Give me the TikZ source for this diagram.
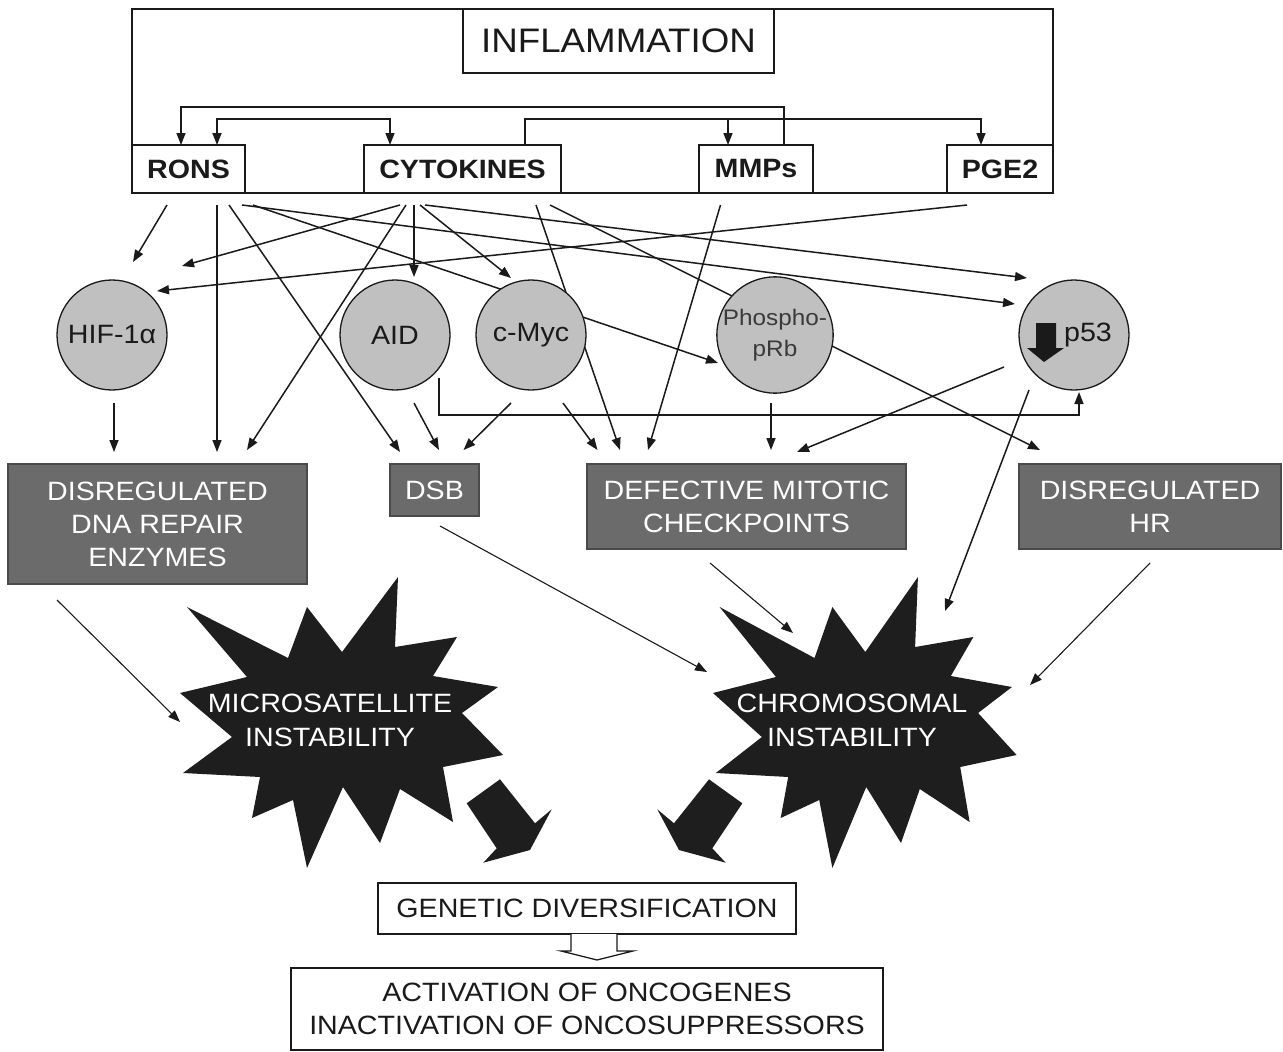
\documentclass[tikz,border=0pt]{standalone}
\usepackage{fontspec}
\setmainfont{Liberation Sans}[FakeStretch=1.08]
\usetikzlibrary{arrows.meta,calc,backgrounds}
\definecolor{linecol}{HTML}{1A1A1A}
\definecolor{circfill}{HTML}{C0C0C0}
\definecolor{boxfill}{HTML}{6B6B6B}
\definecolor{boxline}{HTML}{4A4A4A}
\definecolor{burstcol}{HTML}{1E1E1E}
\definecolor{textgray}{HTML}{3A3A3A}
\newcommand{\inflfont}{\fontsize{34}{40}\selectfont}
\newcommand{\boxfont}{\fontsize{26.5}{33}\selectfont}
\newcommand{\smallboxfont}{\fontsize{22.5}{31}\selectfont}
\tikzset{
  source/.style={draw=linecol, line width=1.5pt, fill=white, inner sep=0pt, outer sep=0pt, minimum height=48pt, font=\boxfont\bfseries, text=linecol},
  factor/.style={circle, draw=linecol, line width=1.3pt, fill=circfill, minimum size=110pt, inner sep=0pt, outer sep=0pt, font=\boxfont, text=linecol},
  defect/.style={draw=boxline, line width=1.3pt, fill=boxfill, inner sep=0pt, outer sep=0pt, align=center, font=\boxfont, text=white},
  outcome/.style={draw=linecol, line width=1.5pt, fill=white, inner sep=0pt, outer sep=0pt, align=center, font=\boxfont, text=linecol},
  bursttext/.style={align=center, font=\fontsize{26.5}{34}\selectfont, text=white, inner sep=0pt},
  link/.style={->, line width=1.5pt, draw=linecol},
  thinlink/.style={->, line width=1.1pt, draw=linecol},
}
\begin{document}
\begin{tikzpicture}[x=1pt, y=-1pt, >={Triangle[length=12pt,width=9pt]}]
    \useasboundingbox (0,0) rectangle (1283,1052);

    \node[outcome, font=\inflfont, minimum width=311pt, minimum height=64pt] (inflam) at (618.5,41) {INFLAMMATION};
    \node[source, minimum width=113pt] (rons) at (188.5,169) {RONS};
    \node[source, minimum width=197pt] (cyto) at (462.5,169) {CYTOKINES};
    \node[source, minimum width=114pt] (mmps) at (756,169) {MMPs};
    \node[source, minimum width=106pt] (pge) at (1000,169) {PGE2};
    \draw[line width=1.5pt, draw=linecol] (rons.south west) |- (inflam.north) -| (pge.south east) -- cycle;

    \draw[link] ([xshift=28pt]mmps.north) -- ++(0,-38) -| ([xshift=-7.5pt]rons.north);
    \draw[link, <->] ([xshift=28.5pt]rons.north) -- ++(0,-26) -| ([xshift=-72.5pt]cyto.north);
    \coordinate (mmpsin) at ([xshift=-28pt]mmps.north);
    \draw[link] ([xshift=62.5pt]cyto.north) -- ++(0,-26) coordinate (cytobus) -| ([xshift=-19pt]pge.north);
    \draw[link] (cytobus -| mmpsin) -- (mmpsin);

    \node[factor] (hif) at (112,335) {HIF-1α};
    \node[factor] (aid) at (395,335) {AID};
    \node[factor] (myc) at (531,335) {c-Myc};
    \node[factor, font=\smallboxfont, align=center, text=textgray] (prb) at (775,335) {Phospho-\\pRb};
    \node[factor] (p53) at (1074,335) {\hspace*{28pt}p53};
    \fill[linecol] ($(p53)+(-38,-12)$) -- ++(20,0) -- ++(0,25) -- ++(8,0) -- ++(-20,14) -- ++(-17,-14) -- ++(9,0) -- cycle;

    \node[defect, minimum width=299pt, minimum height=120pt] (dna) at (157.5,524) {DISREGULATED\\DNA REPAIR\\ENZYMES};
    \node[defect, minimum width=89pt, minimum height=52pt] (dsb) at (434.5,490) {DSB};
    \node[defect, minimum width=319pt, minimum height=85pt] (def) at (746.5,506.5) {DEFECTIVE MITOTIC\\CHECKPOINTS};
    \node[defect, minimum width=262pt, minimum height=85pt] (hr) at (1150,506.5) {DISREGULATED\\HR};

    \foreach \cx/\sx in {330/1, 854/0.94}
        \fill[burstcol, shift={(\cx,720)}, xscale=\sx] (-143,-113) -- (-42,-62) -- (-23,-113) -- (12,-68) -- (68,-143) -- (65,-73) -- (127,-83) -- (103,-44) -- (168,-33) -- (132,-7) -- (173,35) -- (113,47) -- (123,102) -- (70,69) -- (50,123) -- (13,67) -- (-23,148) -- (-37,80) -- (-78,98) -- (-70,57) -- (-147,53) -- (-98,17) -- (-150,-27) -- (-83,-43) -- cycle;
    \node[bursttext] (micro) at (330,720) {MICROSATELLITE\\INSTABILITY};
    \node[bursttext] (chrom) at (852,720) {CHROMOSOMAL\\INSTABILITY};

    \foreach \s in {1,-1}
        \fill[burstcol, shift={(604.5,0)}, xscale=\s] (-137.8,803.3) -- (-104.5,779.3) -- (-69.5,823.3) -- (-52.8,809.3) -- (-74.5,850) -- (-121.2,862.7) -- (-107.8,848.3) -- cycle;

    \node[outcome, minimum width=418pt, minimum height=51pt] (gen) at (587,908.5) {GENETIC DIVERSIFICATION};
    \node[outcome, minimum width=592pt, minimum height=82pt] (act) at (587,1009) {ACTIVATION OF ONCOGENES\\INACTIVATION OF ONCOSUPPRESSORS};
    \draw[line width=1.3pt, draw=linecol, fill=white] ($(gen.south)+(-16,0)$) -- ++(0,17) -- ++(-10,0) -- ($(gen.south)+(10,26)$) -- ($(gen.south)+(46,17)$) -- ++(-16,0) -- ($(gen.south)+(30,0)$);

    \begin{pgfonlayer}{background}
        \fill[white] (0,0) rectangle (1283,1052);
        \draw[link] ($(rons.south)+(-21.5,12)$) -- ($(hif)+(21,-73)$);
        \draw[link] ($(rons.south)+(28.5,12)$) -- ($(dna.north)+(59.5,-12)$);
        \draw[link] ($(rons.south)+(40.5,12)$) -- ($(dsb.north)+(-34.5,-12)$);
        \draw[link] ($(rons.south)+(64.5,12)$) -- ($(prb)+(-57,28)$);
        \draw[link] ($(rons.south)+(53.5,12)$) -- ($(p53)+(-59,-31)$);

        \draw[link] ($(cyto.south)+(-62.5,12)$) -- ($(hif)+(70,-69)$);
        \draw[link] ($(cyto.south)+(-56.5,12)$) -- ($(dna.north)+(89.5,-14)$);
        \draw[link] ($(cyto.south)+(-48.5,12)$) -- ($(aid)+(19,-58)$);
        \draw[link] ($(cyto.south)+(-42.5,12)$) -- ($(myc)+(-20,-57)$);
        \draw[link] ($(cyto.south)+(-37.5,12)$) -- ($(p53)+(-47,-57)$);
        \draw[link] ($(cyto.south)+(73.5,12)$) -- ($(def.north)+(-126.5,-14)$);
        \draw[link] ($(cyto.south)+(87.5,12)$) -- ($(hr.north)+(-110,-14)$);
        \draw[link] ($(mmps.south)+(-35.5,12)$) -- ($(def.north)+(-98.5,-14)$);
        \draw[link] ($(pge.south)+(-33,12)$) -- ($(hif)+(45,-44)$);

        \draw[link] ($(hif)+(2,68)$) -- ($(dna.north)+(-43.5,-12)$);
        \draw[link] ($(aid)+(19,68)$) -- ($(dsb.north)+(4.5,-14)$);
        \draw[link] ($(aid)+(44,43)$) -- ++(0,37) -| ($(p53.south)+(5,2)$);
        \draw[link] ($(myc)+(-20,68)$) -- ($(dsb.north)+(29,-14)$);
        \draw[link] ($(myc)+(32,68)$) -- ($(def.north)+(-149,-14)$);
        \draw[link] ($(prb)+(-4,68)$) -- ($(def.north)+(24.5,-14)$);
        \draw[link] ($(p53)+(-70,32)$) -- ($(def.north)+(50.5,-12)$);
        \draw[link] ($(p53)+(-45,55)$) -- ($(chrom)+(93,-109)$);

        \draw[thinlink] ($(dna.south)+(-100.5,16)$) -- ($(micro)+(-150,2)$);
        \draw[thinlink] ($(dsb.south)+(5.5,10)$) -- ($(chrom)+(-145,-48)$);
        \draw[thinlink] ($(def.south)+(-36.5,14)$) -- ($(chrom)+(-59,-87)$);
        \draw[thinlink] ($(hr.south)+(0,14)$) -- ($(chrom)+(178,-35)$);
    \end{pgfonlayer}
\end{tikzpicture}
\end{document}
